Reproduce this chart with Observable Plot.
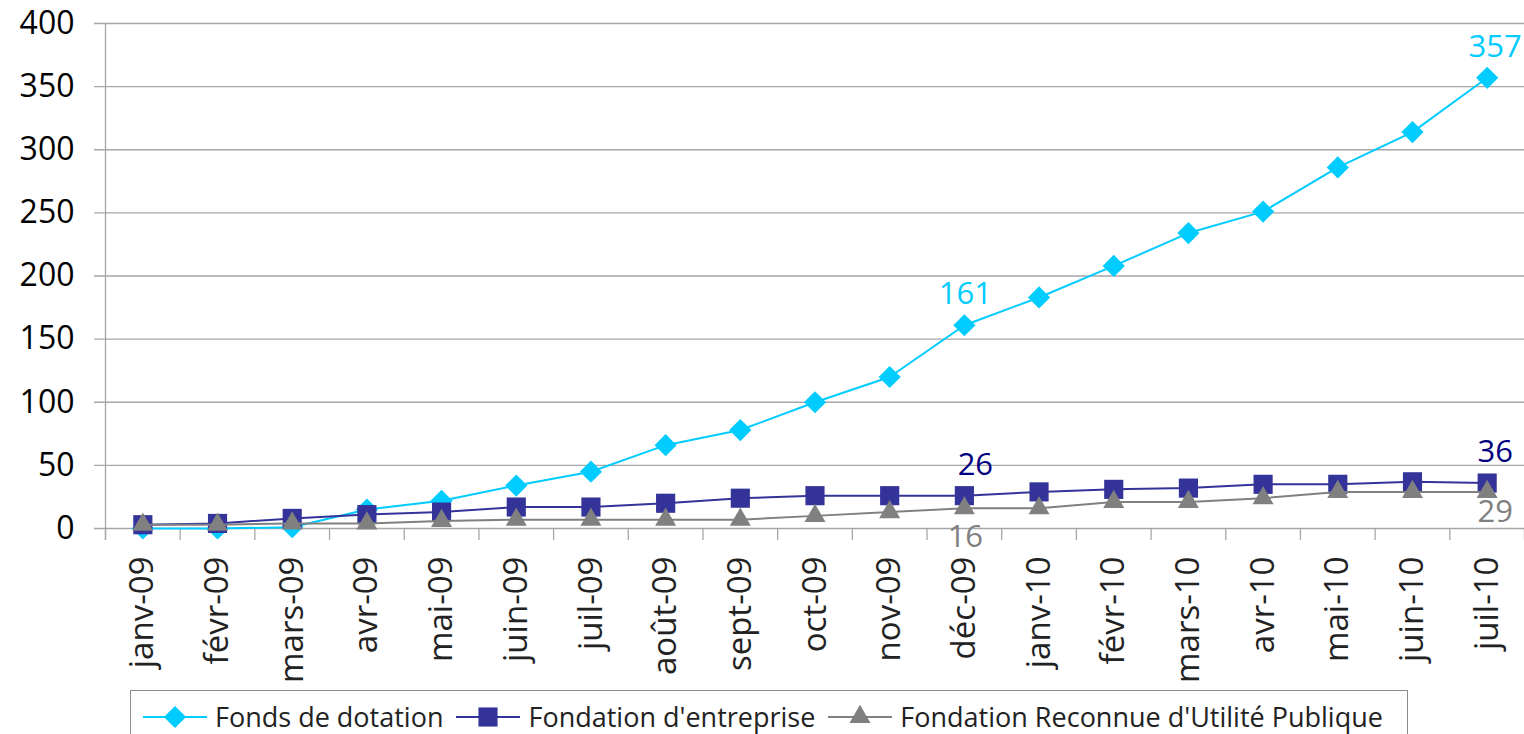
<!DOCTYPE html>
<html>
<head>
<meta charset="utf-8">
<script src="https://cdn.jsdelivr.net/npm/d3@7"></script>
<script src="https://cdn.jsdelivr.net/npm/@observablehq/plot@0.6"></script>
<style>
  html, body { margin: 0; padding: 0; background: #fff; overflow: hidden; }
  body { width: 1524px; height: 734px; position: relative; font-family: "Open Sans", sans-serif; }
  #chart { position: absolute; left: 0; top: 0; }
  #legend {
    position: absolute; left: 130px; top: 690px; width: 1278px; height: 60px;
    border: 1px solid #8c8c8c; box-sizing: border-box; display: flex; align-items: flex-start;
    padding-top: 10px; padding-left: 12px; font-size: 27px; color: #222; white-space: nowrap;
  }
  .item { display: flex; align-items: center; margin-right: 13px; line-height: 32px; }
  .item svg { margin-right: 8px; }
</style>
</head>
<body>
<div id="chart"></div>
<div id="legend"></div>
<script>
const months = ["janv-09","févr-09","mars-09","avr-09","mai-09","juin-09","juil-09","août-09","sept-09","oct-09","nov-09","déc-09","janv-10","févr-10","mars-10","avr-10","mai-10","juin-10","juil-10"];
const fondsDotation = [0,0,1,15,22,34,45,66,78,100,120,161,183,208,234,251,286,314,357];
const fondationEntreprise = [3,4,8,11,13,17,17,20,24,26,26,26,29,31,32,35,35,37,36];
const fondationRUP = [3,3,4,4,6,7,7,7,7,10,13,16,16,21,21,24,29,29,29];
const seriesNames = ["Fonds de dotation","Fondation d'entreprise","Fondation Reconnue d'Utilité Publique"];
const yTicks = [0,50,100,150,200,250,300,350,400];
const labelledMonths = ["déc-09","juil-10"];

const seriesValues = [fondsDotation, fondationEntreprise, fondationRUP];
const colors = ["#00CCFF", "#333399", "#808080"];
const labelColors = ["#00CCFF", "#000080", "#808080"];
const symbols = ["diamond2", "square", "triangle"];
const radii = [10, 10.8, 7.8];

const rows = seriesValues.map((vals, s) => vals.map((v, i) => ({series: seriesNames[s], s, i, month: months[i], value: v})));
const labelRows = rows.flatMap(r => r.filter(d => labelledMonths.includes(d.month)));

const idx = d3.range(months.length);
const gridColor = "#a6a6a6";

const marks = [
  Plot.ruleY(yTicks, {y: d => d, stroke: gridColor, strokeWidth: 1.3, insetLeft: -11}),
  Plot.ruleX(idx.concat([months.length]), {x: d => d - 0.5, y1: 0, y2: -9.5, stroke: gridColor, strokeWidth: 1.3}),
  Plot.ruleX([0], {x: d => d - 0.5, y1: -9.5, y2: 400, stroke: gridColor, strokeWidth: 1.3}),
  Plot.axisY(yTicks, {tickSize: 0, tickPadding: 31, fontSize: 32, fill: "#000", label: null}),
  Plot.axisX(idx, {tickSize: 0, tickPadding: 28, tickRotate: -90, fontSize: 33, fill: "#222", label: null, tickFormat: i => months[i]})
];
rows.forEach((r, s) => {
  marks.push(Plot.line(r, {x: "i", y: "value", stroke: colors[s], strokeWidth: 2}));
  marks.push(Plot.dot(r, {x: "i", y: "value", symbol: () => symbols[s], r: radii[s], fill: colors[s], stroke: "none"}));
});
labelRows.forEach(d => {
  const below = d.s === 2;
  const end = d.i === months.length - 1;
  marks.push(Plot.text([d], {x: "i", y: "value", text: d => String(d.value), fill: labelColors[d.s], fontSize: 31,
    dy: below ? (end ? 20 : 29) : -31, dx: end ? 8 : (d.s === 1 ? 11 : 1)}));
});

const chart = Plot.plot({
  width: 1524, height: 690,
  marginTop: 23, marginBottom: 162, marginLeft: 105, marginRight: 0,
  style: {fontFamily: "'Open Sans', sans-serif", background: "transparent", overflow: "visible"},
  x: {type: "linear", domain: [-0.5, months.length - 0.5], label: null},
  y: {domain: [0, 400], label: null},
  symbol: {type: "identity"},
  marks
});
document.getElementById("chart").appendChild(chart);

const legend = document.getElementById("legend");
seriesNames.forEach((name, s) => {
  const item = document.createElement("div");
  item.className = "item";
  const w = 64, h = 30;
  const sym = d3.symbol(d3[{"diamond2":"symbolDiamond2","square":"symbolSquare","triangle":"symbolTriangle"}[symbols[s]]], Math.PI * radii[s] * radii[s])();
  item.innerHTML = `<svg width="${w}" height="${h}"><line x1="0" x2="${w}" y1="${h/2}" y2="${h/2}" stroke="${colors[s]}" stroke-width="2"/><path d="${sym}" transform="translate(${w/2},${h/2})" fill="${colors[s]}"/></svg><span>${name}</span>`;
  legend.appendChild(item);
});
</script>
</body>
</html>
